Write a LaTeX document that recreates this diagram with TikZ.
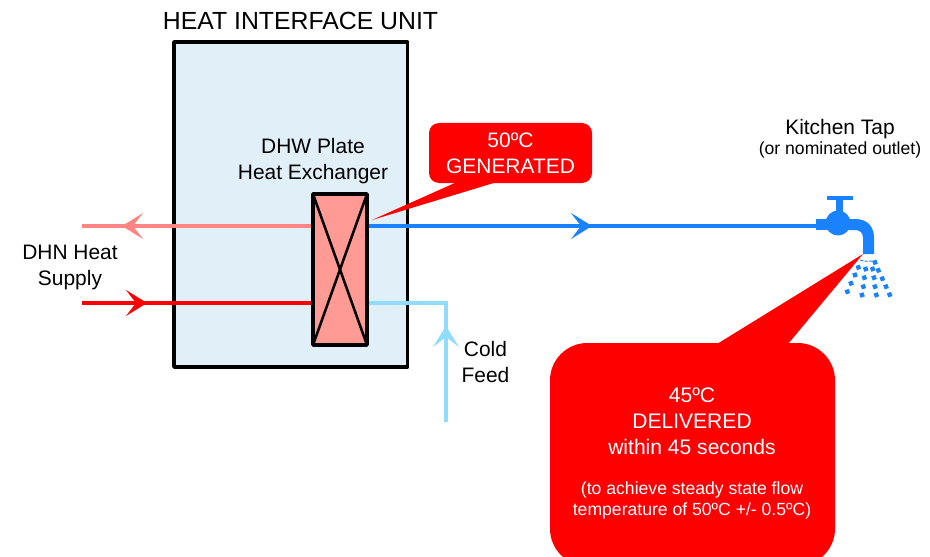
\documentclass[tikz,border=0pt]{standalone}
\usepackage{fontspec}
\setmainfont{Liberation Sans}
\usetikzlibrary{arrows.meta}
\definecolor{hiufill}{HTML}{E1EFF9}
\definecolor{hexfill}{HTML}{FF9A94}
\definecolor{pinkline}{HTML}{FF8585}
\definecolor{hotline}{HTML}{FF0000}
\definecolor{blueline}{HTML}{1A82FF}
\definecolor{coldline}{HTML}{8FDCFF}
\tikzset{
  x=0.75pt,y=-0.75pt,
  pipe/.style={line width=2.9pt},
  midtip/.style={-{Stealth[length=21*0.75pt,width=26*0.75pt,inset=10*0.75pt]}},
  outline/.style={draw=black,line width=2.7pt,line join=round,outer sep=0pt},
  txt/.style={inner sep=0pt,align=center,text=black,font=\fontsize{15.7}{19.5}\selectfont},
  small/.style={inner sep=0pt,align=center,text=black,font=\fontsize{13.2}{15}\selectfont},
  callout/.style={fill=hotline,draw=none},
  calltxt/.style={inner sep=0pt,align=center,text=white},
  droplet/.style={fill=blueline,draw=none,minimum size=4.4*0.75pt,inner sep=0pt,rectangle,rotate=20},
}
\begin{document}
\begin{tikzpicture}
\useasboundingbox (0,0) rectangle (930,556);
\clip (0,0) rectangle (930,556);
% HIU
\node[fill=hiufill,outline,minimum width=233.5*0.75pt,minimum height=325*0.75pt,inner sep=0pt] (hiu) at (290.8,204.5) {};
\node[txt,font=\fontsize{18.6}{20}\selectfont] (hiulabel) at (300.5,21) {HEAT INTERFACE UNIT};
% coordinates
\coordinate (pinkL) at (82,226);
\coordinate (pinkR) at (314,226);
\coordinate (pinkTip) at (122,226);
\coordinate (pinkS) at (143,226);
\coordinate (redL) at (82,303);
\coordinate (redR) at (314,303);
\coordinate (redTip) at (147,303);
\coordinate (blueL) at (367,226);
\coordinate (blueR) at (830,226);
\coordinate (blueTip) at (592,226);
\coordinate (coldL) at (367,303);
\coordinate (coldC) at (446,303);
\coordinate (coldB) at (446,422);
\coordinate (coldTip) at (446,326);
% pipes
\draw[pipe,pinkline] (pinkR) -- (pinkL);
\draw[pipe,pinkline,midtip] (pinkS) -- (pinkTip);
\draw[pipe,hotline] (redL) -- (redR);
\draw[pipe,hotline,midtip] (120,303) -- (redTip);
\draw[pipe,blueline] (blueL) -- (blueR);
\draw[pipe,blueline,midtip] (568,226) -- (blueTip);
\draw[pipe,coldline,line join=miter] (coldL) -- (coldC) -- (coldB);
\draw[pipe,coldline,midtip] (446,352) -- (coldTip);
% Exchanger
\node[fill=hexfill,outline,minimum width=54*0.75pt,minimum height=151*0.75pt,inner sep=0pt] (hex) at (340,269.5) {};
\draw[black,line width=1.9pt] (hex.north west) -- (hex.south east);
\draw[black,line width=1.9pt] (hex.north east) -- (hex.south west);
\node[txt] (hexlabel) at (313,161) {DHW Plate\\Heat Exchanger};
\node[txt] (supply) at (70,267) {DHN Heat\\Supply};
\node[txt] (feed) at (485.5,362) {Cold\\Feed};
\node[txt,anchor=base] (tap) at (840,134) {Kitchen Tap};
\node[small,anchor=base] (outlet) at (840,155) {(or nominated outlet)};
% Tap
\fill[blueline] (827,196) rectangle (853,200);
\fill[blueline] (836,200) rectangle (843,215);
\fill[blueline] (816,219) rectangle (840,230);
\fill[blueline] (838,223) circle (12.5);
\fill[blueline] (838,219) -- (855,219) .. controls (867,219) and (874,226) .. (874,238) -- (874,254) -- (863,254) -- (863,238) .. controls (863,233) and (860,230) .. (855,230) -- (838,230) -- cycle;
% Spray
\draw[blueline,line width=0.7pt,dash pattern=on 2.5pt off 1pt] (860,260) .. controls (866,262) and (868,261) .. (874,261);
\foreach \n/\x/\y in {a/285/247,b/235/262,c/257/267,d/278/267,e/295/271,f/225/285,g/253/293,h/282/293,i/307/296,j/213/310,k/250/320,l/285/320,m/318/320,o/202/335,p/246/345,q/289/345,r/329/344}{
  \node[droplet] (drop\n) at ({780+\x/3},{180+\y/3}) {};
}
% Callouts
\fill[callout,rounded corners=7.5pt] (429,123) rectangle (592,183);
\fill[callout] (372,220) -- (457,182) -- (497,182) -- cycle;
\node[calltxt,font=\fontsize{15.7}{19.5}\selectfont] (gen) at (510.5,153.5) {50ºC\\GENERATED};
\fill[callout,rounded corners=28pt] (550,343) rectangle (835,566);
\fill[callout] (863,254) -- (717,344) -- (788,344) -- cycle;
\node[calltxt,font=\fontsize{15.8}{19.4}\selectfont] (del) at (692,421.5) {45ºC\\DELIVERED\\within 45 seconds};
\node[calltxt,font=\fontsize{13.2}{16.3}\selectfont] (note) at (692,500.5) {(to achieve steady state flow\\temperature of 50ºC +/- 0.5ºC)};
\end{tikzpicture}
\end{document}
